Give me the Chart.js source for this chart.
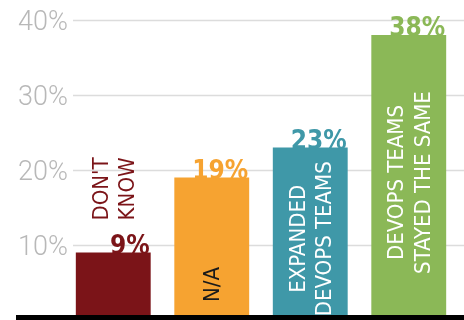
<!DOCTYPE html>
<html>
<head>
<meta charset="utf-8">
<script src="https://cdn.jsdelivr.net/npm/chart.js@4"></script>
<style>
  html, body { margin: 0; padding: 0; background: #fff; }
  #wrap { width: 464px; height: 320px; }
</style>
</head>
<body>
<div id="wrap"><canvas id="chart"></canvas></div>
<script>
// Datos del gráfico
const categories = ["DON'T KNOW", 'N/A', 'EXPANDED DEVOPS TEAMS', 'DEVOPS TEAMS STAYED THE SAME'];
const values = [9, 19, 23, 38];
const valueLabels = ['9%', '19%', '23%', '38%'];
const yTicks = [10, 20, 30, 40];
const yTickLabels = ['10%', '20%', '30%', '40%'];
const barLines = [["DON'T", 'KNOW'], ['N/A'], ['EXPANDED', 'DEVOPS TEAMS'], ['DEVOPS TEAMS', 'STAYED THE SAME']];

// Colores
const barColors = ['#7b1418', '#f6a331', '#3f98a8', '#8bb857'];
const barTextColors = ['#7b1418', '#1a1a1a', '#ffffff', '#ffffff'];
const labelPlacement = ['above', 'bottom', 'middle', 'middle'];

const condensed = '"Liberation Sans Narrow", "DejaVu Sans Condensed", "Roboto", sans-serif';

const decorPlugin = {
    id: 'decor',
    beforeDatasetsDraw(chart) {
        const ctx = chart.ctx;
        const y = chart.scales.y;
        ctx.save();
        // líneas de la rejilla y etiquetas del eje
        yTicks.forEach((v, i) => {
            const py = Math.round(y.getPixelForValue(v)) + 0.5;
            ctx.strokeStyle = '#dcdcdc';
            ctx.lineWidth = 1.5;
            ctx.beginPath();
            ctx.moveTo(73, py);
            ctx.lineTo(chart.width, py);
            ctx.stroke();
            ctx.fillStyle = '#b8b8b8';
            ctx.font = '300 27px Roboto, "Open Sans", sans-serif';
            ctx.textAlign = 'right';
            ctx.textBaseline = 'middle';
            ctx.fillText(yTickLabels[i], 68, py + 3);
        });
        ctx.restore();
    },
    afterDatasetsDraw(chart) {
        const ctx = chart.ctx;
        const y = chart.scales.y;
        const meta = chart.getDatasetMeta(0);
        ctx.save();

        // línea base negra
        const base = y.getPixelForValue(0);
        ctx.fillStyle = '#000';
        ctx.fillRect(16, base - 5, chart.width - 16, 5);

        meta.data.forEach((bar, i) => {
            const right = bar.x + bar.width / 2;
            // porcentaje
            ctx.fillStyle = barColors[i];
            ctx.font = 'bold 26px ' + condensed;
            ctx.textAlign = 'right';
            ctx.textBaseline = 'alphabetic';
            ctx.fillText(valueLabels[i], right - 1, bar.y + 1);

            // texto girado
            const lines = barLines[i];
            ctx.font = '22px ' + condensed;
            const lineGap = 26.5;
            const maxLen = Math.max(...lines.map(l => ctx.measureText(l).width));
            let cy;
            if (labelPlacement[i] === 'above') {
                cy = bar.y - 32 - maxLen / 2;
            } else if (labelPlacement[i] === 'bottom') {
                cy = base - 18 - maxLen / 2;
            } else {
                cy = (bar.y + base) / 2 + 5;
            }
            ctx.save();
            ctx.translate(bar.x + 2, cy);
            ctx.rotate(-Math.PI / 2);
            ctx.fillStyle = barTextColors[i];
            ctx.textAlign = 'center';
            ctx.textBaseline = 'middle';
            lines.forEach((l, k) => {
                const off = (k - (lines.length - 1) / 2) * lineGap;
                ctx.fillText(l, 0, off);
            });
            ctx.restore();
        });
        ctx.restore();
    }
};

new Chart(document.getElementById('chart'), {
    type: 'bar',
    data: {
        labels: categories,
        datasets: [{
            data: values,
            backgroundColor: barColors,
            borderWidth: 0,
            categoryPercentage: 1,
            barPercentage: 0.76
        }]
    },
    options: {
        responsive: true,
        maintainAspectRatio: false,
        animation: false,
        layout: { padding: { left: 64, right: 6, top: 0, bottom: 0 } },
        plugins: {
            legend: { display: false },
            tooltip: { enabled: false }
        },
        scales: {
            x: { display: false },
            y: { display: false, min: 0, max: 42.67 }
        }
    },
    plugins: [decorPlugin]
});
</script>
</body>
</html>
